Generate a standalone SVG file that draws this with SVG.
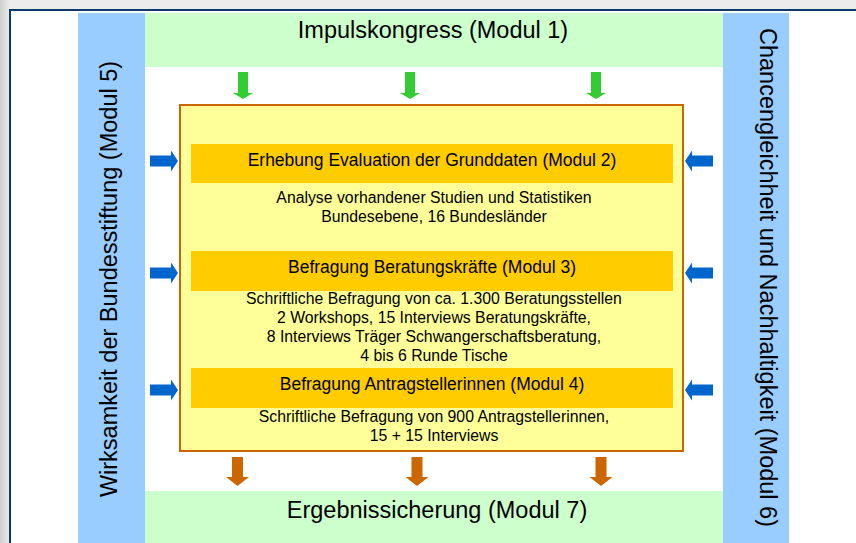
<svg xmlns="http://www.w3.org/2000/svg" width="856" height="543" viewBox="0 0 856 543">
  <defs>
    <linearGradient id="leftShade" x1="0" y1="0" x2="1" y2="0">
      <stop offset="0" stop-color="#cfcfcf"/>
      <stop offset="1" stop-color="#ececec"/>
    </linearGradient>
    <path id="arrowGreen" d="M-5,0 H5 V21 H10 L0,27 L-10,21 H-5 Z" fill="#33cc33"/>
    <path id="arrowOrange" d="M-5.5,0 H5.5 V20 H11.5 L0,29 L-11.5,20 H-5.5 Z" fill="#cc6600"/>
    <path id="arrowBlue" d="M-28,-5.5 H-7 V-10.5 L0,0 L-7,10.5 V5.5 H-28 Z" fill="#0066cc"/>
  </defs>
  <style>
    .big { font-family: "Liberation Sans", Arial, sans-serif; font-size: 23.5px; fill: #000; }
    .bar-title { font-family: "Liberation Sans", Arial, sans-serif; font-size: 17.5px; fill: #000; text-anchor: middle; }
    .body { font-family: "Liberation Sans", Arial, sans-serif; font-size: 15.8px; fill: #000; text-anchor: middle; }
    .col { fill: #99ccff; }
    .band { fill: #ccffcc; }
    .bar { fill: #ffcc00; }
  </style>

  <!-- frame -->
  <rect x="0" y="0" width="856" height="543" fill="#ececec"/>
  <rect x="0" y="0" width="10" height="543" fill="url(#leftShade)"/>
  <rect x="10" y="10" width="860" height="560" fill="#ffffff" stroke="#0b3a6b" stroke-width="2"/>

  <g id="modul1">
    <rect class="band" x="145" y="13" width="578" height="54"/>
    <text class="big" x="433" y="38" text-anchor="middle">Impulskongress (Modul 1)</text>
  </g>
  <g id="modul7">
    <rect class="band" x="145" y="491" width="578" height="52"/>
    <text class="big" x="437" y="518" text-anchor="middle">Ergebnissicherung (Modul 7)</text>
  </g>
  <g id="modul5">
    <rect class="col" x="78" y="13" width="67" height="530"/>
    <text class="big" transform="translate(117.3,279) rotate(-90)" text-anchor="middle">Wirksamkeit der Bundesstiftung (Modul 5)</text>
  </g>
  <g id="modul6">
    <rect class="col" x="723" y="13" width="66" height="530"/>
    <text class="big" transform="translate(760,277.5) rotate(90)" text-anchor="middle">Chancengleichheit und Nachhaltigkeit (Modul 6)</text>
  </g>

  <g id="kern">
    <rect x="180" y="105" width="503" height="346" fill="#ffff99" stroke="#cc6600" stroke-width="2"/>
  </g>
  <g id="modul2">
    <rect class="bar" x="191" y="144" width="482" height="39"/>
    <text class="bar-title" x="432" y="166">Erhebung Evaluation der Grunddaten (Modul 2)</text>
    <text class="body" x="434" y="203">Analyse vorhandener Studien und Statistiken</text>
    <text class="body" x="434" y="222">Bundesebene, 16 Bundesländer</text>
  </g>
  <g id="modul3">
    <rect class="bar" x="191" y="251" width="482" height="40"/>
    <text class="bar-title" x="432" y="273">Befragung Beratungskräfte (Modul 3)</text>
    <text class="body" x="434" y="304">Schriftliche Befragung von ca. 1.300 Beratungsstellen</text>
    <text class="body" x="434" y="323">2 Workshops, 15 Interviews Beratungskräfte,</text>
    <text class="body" x="434" y="342">8 Interviews Träger Schwangerschaftsberatung,</text>
    <text class="body" x="434" y="361">4 bis 6 Runde Tische</text>
  </g>
  <g id="modul4">
    <rect class="bar" x="191" y="368" width="482" height="40"/>
    <text class="bar-title" x="432" y="390">Befragung Antragstellerinnen (Modul 4)</text>
    <text class="body" x="434" y="422">Schriftliche Befragung von 900 Antragstellerinnen,</text>
    <text class="body" x="434" y="441">15 + 15 Interviews</text>
  </g>

  <g id="connectors">
    <use href="#arrowGreen" transform="translate(243,72)"/>
    <use href="#arrowGreen" transform="translate(410,72)"/>
    <use href="#arrowGreen" transform="translate(596,72)"/>
    <use href="#arrowOrange" transform="translate(237.5,457)"/>
    <use href="#arrowOrange" transform="translate(417,457)"/>
    <use href="#arrowOrange" transform="translate(601,457)"/>
    <use href="#arrowBlue" transform="translate(178,161)"/>
    <use href="#arrowBlue" transform="translate(178,273)"/>
    <use href="#arrowBlue" transform="translate(178,390)"/>
    <use href="#arrowBlue" transform="translate(685,161) scale(-1,1)"/>
    <use href="#arrowBlue" transform="translate(685,273) scale(-1,1)"/>
    <use href="#arrowBlue" transform="translate(685,390) scale(-1,1)"/>
  </g>
</svg>
